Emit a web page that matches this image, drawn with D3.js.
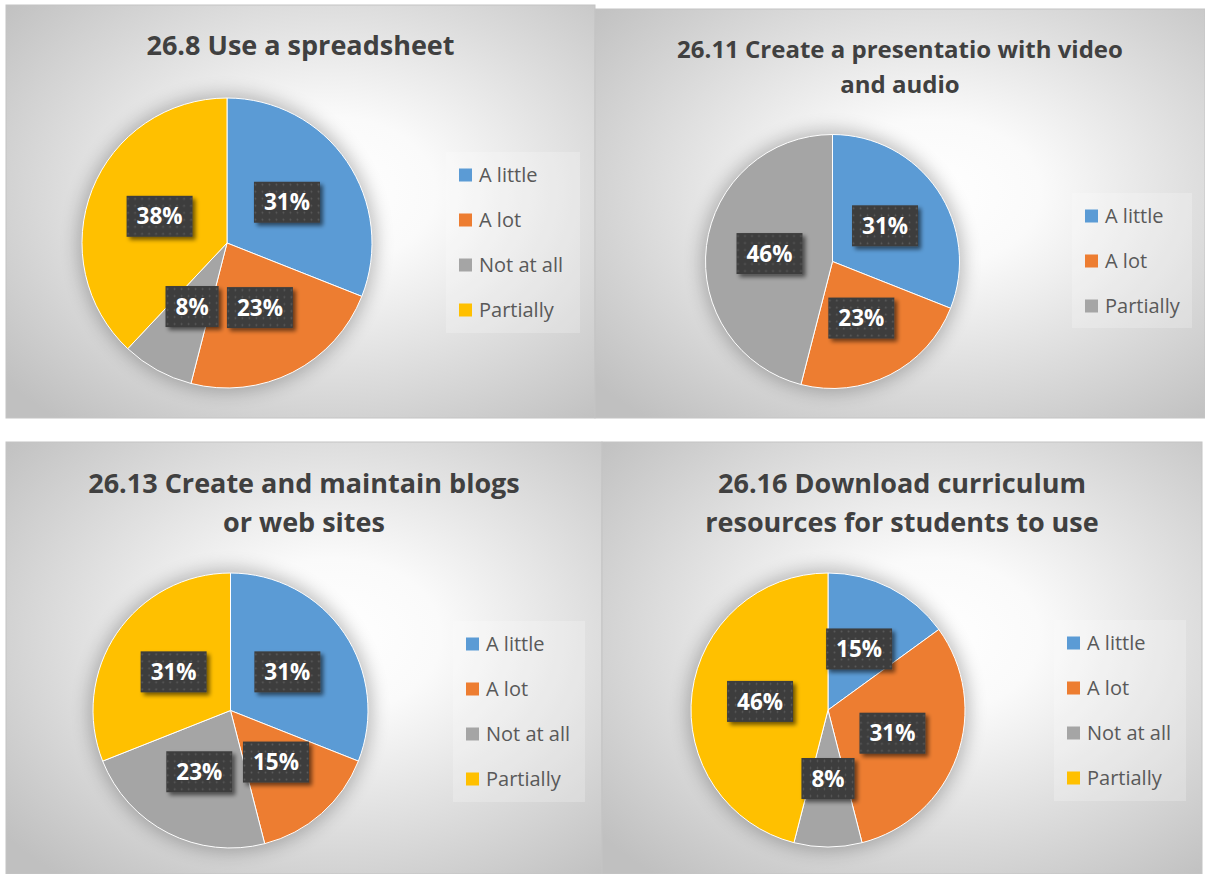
<!DOCTYPE html>
<html><head><meta charset="utf-8">
<script src="https://cdn.jsdelivr.net/npm/d3@7"></script>
<style>body{margin:0;background:#fff;} svg{display:block;}</style>
</head><body>
<svg id="chart" width="1205" height="874"></svg>
<script>
// ---- data ----
const categoriesFour = ["A little", "A lot", "Not at all", "Partially"];
const categoriesThree = ["A little", "A lot", "Partially"];
const title1 = ["26.8 Use a spreadsheet"];
const title2 = ["26.11 Create a presentatio with video", "and audio"];
const title3 = ["26.13 Create and maintain blogs", "or web sites"];
const title4 = ["26.16 Download curriculum", "resources for students to use"];
const values1 = [31, 23, 8, 38];
const values2 = [31, 23, 46];
const values3 = [31, 15, 23, 31];
const values4 = [15, 31, 8, 46];
const colors = ["#5B9BD5", "#ED7D31", "#A5A5A5", "#FFC000"];

// ---- layout ----
const layouts = [
  {x:6,   y:5,   w:589, h:413, cx:227,   cy:243,   r:145,   lx:446,  ly:152, lw:134, lh:181, ty:55,  tsize:27, tgap:39},
  {x:595, y:9,   w:610, h:409, cx:832.5, cy:261.5, r:127,   lx:1072, ly:193, lw:120, lh:135, ty:58,  tsize:24, tgap:35},
  {x:6,   y:442, w:596, h:432, cx:230.5, cy:710.5, r:137.5, lx:453,  ly:621, lw:132, lh:181, ty:493, tsize:27, tgap:39},
  {x:602, y:442, w:600, h:432, cx:828,   cy:710,   r:137,   lx:1054, ly:620, lw:132, lh:181, ty:493, tsize:27, tgap:39}
];
const charts = [
  {title: title1, cats: categoriesFour,  vals: values1},
  {title: title2, cats: categoriesThree, vals: values2},
  {title: title3, cats: categoriesFour,  vals: values3},
  {title: title4, cats: categoriesFour,  vals: values4}
];

const svg = d3.select("#chart");
const defs = svg.append("defs");

const grad = defs.append("radialGradient").attr("id", "bg")
  .attr("cx", 0.55).attr("cy", 0.45).attr("r", 0.72);
grad.append("stop").attr("offset", 0).attr("stop-color", "#ffffff");
grad.append("stop").attr("offset", 0.25).attr("stop-color", "#fafafa");
grad.append("stop").attr("offset", 1).attr("stop-color", "#c0c0c0");

const halo = defs.append("filter").attr("id", "halo")
  .attr("x", -0.3).attr("y", -0.3).attr("width", 1.6).attr("height", 1.6);
halo.append("feGaussianBlur").attr("stdDeviation", 9);

const boxShadow = defs.append("filter").attr("id", "boxshadow")
  .attr("x", -0.3).attr("y", -0.3).attr("width", 1.6).attr("height", 1.6);
boxShadow.append("feGaussianBlur").attr("in", "SourceAlpha").attr("stdDeviation", 2).attr("result", "b");
boxShadow.append("feOffset").attr("in", "b").attr("dx", 3).attr("dy", 3).attr("result", "o");
boxShadow.append("feComponentTransfer").attr("in", "o").attr("result", "s")
  .append("feFuncA").attr("type", "linear").attr("slope", 0.55);
const m = boxShadow.append("feMerge");
m.append("feMergeNode").attr("in", "s");
m.append("feMergeNode").attr("in", "SourceGraphic");

const pat = defs.append("pattern").attr("id", "dots")
  .attr("patternUnits", "userSpaceOnUse").attr("width", 7).attr("height", 7);
pat.append("rect").attr("width", 7).attr("height", 7).attr("fill", "#3d3d3d");
pat.append("circle").attr("cx", 3.5).attr("cy", 3.5).attr("r", 0.9).attr("fill", "#5c5c5c");

const fmt = d3.format(".0%");

charts.forEach((c, i) => {
  const L = layouts[i];
  const g = svg.append("g");
  g.append("rect").attr("x", L.x).attr("y", L.y).attr("width", L.w).attr("height", L.h)
    .attr("fill", "url(#bg)").attr("stroke", "#c4c4c4").attr("stroke-width", 1);

  // title
  c.title.forEach((line, k) => {
    g.append("text").attr("x", L.x + L.w / 2).attr("y", L.ty + k * L.tgap)
      .attr("text-anchor", "middle").attr("fill", "#404040")
      .attr("font-family", "'Open Sans', sans-serif").attr("font-weight", "bold")
      .attr("font-size", L.tsize).text(line);
  });

  // pie
  const color = d3.scaleOrdinal().domain(c.cats).range(colors);
  const total = d3.sum(c.vals);
  const data = c.cats.map((cat, k) => ({cat, v: c.vals[k]}));
  const arcs = d3.pie().sort(null).value(d => d.v)(data);
  const arc = d3.arc().innerRadius(0).outerRadius(L.r);
  const pg = g.append("g").attr("transform", `translate(${L.cx},${L.cy})`);
  pg.append("circle").attr("r", L.r + 4).attr("fill", "#000").attr("opacity", 0.25)
    .attr("filter", "url(#halo)");
  pg.selectAll("path.slice").data(arcs).join("path").attr("class", "slice")
    .attr("d", arc).attr("fill", d => color(d.data.cat))
    .attr("stroke", "#ffffff").attr("stroke-width", 1);

  // data labels
  arcs.forEach(d => {
    const [px, py] = arc.centroid(d);
    const lg = pg.append("g").attr("transform", `translate(${px},${py})`);
    const rect = lg.append("rect").attr("fill", "url(#dots)").attr("filter", "url(#boxshadow)");
    const t = lg.append("text").attr("text-anchor", "middle").attr("dy", "0.36em")
      .attr("fill", "#ffffff").attr("font-family", "'Open Sans', sans-serif")
      .attr("font-weight", "bold").attr("font-size", 22.5)
      .text(fmt(d.data.v / total));
    const tw = t.node().getComputedTextLength();
    const bw = tw + 20, bh = 41;
    rect.attr("x", -bw / 2).attr("y", -bh / 2).attr("width", bw).attr("height", bh);
  });

  // legend
  const lgd = g.append("g");
  lgd.append("rect").attr("x", L.lx).attr("y", L.ly).attr("width", L.lw).attr("height", L.lh)
    .attr("fill", "#ffffff").attr("opacity", 0.22);
  c.cats.forEach((cat, k) => {
    const yc = L.ly + 23 + k * 45;
    lgd.append("rect").attr("x", L.lx + 13).attr("y", yc - 6.5).attr("width", 13).attr("height", 13)
      .attr("fill", color(cat));
    lgd.append("text").attr("x", L.lx + 33).attr("y", yc).attr("dy", "0.35em")
      .attr("fill", "#595959").attr("font-family", "'Open Sans', sans-serif")
      .attr("font-size", 20).text(cat);
  });
});
</script>
</body></html>
